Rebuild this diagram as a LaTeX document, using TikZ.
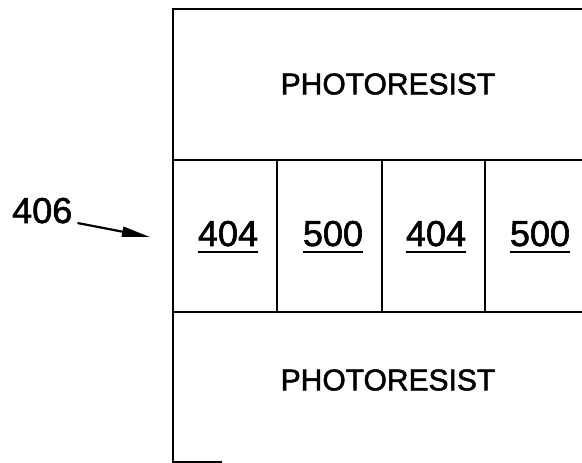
\documentclass[tikz,border=0pt]{standalone}
\usepackage{fontspec}
\setmainfont{Liberation Sans}
\newfontfamily\patentfont[FakeBold=1.6]{Liberation Sans}
\usetikzlibrary{arrows.meta}
\newcommand{\refnum}[1]{\sbox0{#1}\usebox0\llap{\rule[-7pt]{\wd0}{2.4pt}}}
\begin{document}
\begin{tikzpicture}[x=1pt,y=-1pt,
  layer/.style={line width=2.6pt},
  resist/.style={font=\patentfont\fontsize{30}{34}\selectfont},
  cellnum/.style={font=\patentfont\fontsize{36}{40}\selectfont, anchor=base, inner sep=0pt},
  pointer/.style={line width=2.2pt, -{Triangle[length=28pt,width=10pt]}}]
  \useasboundingbox (0,0) rectangle (582,463);

  % layer outlines
  \draw[layer] (582,9) -- (173,9) -- (173,462) -- (222,462);
  \draw[layer] (173,160) -- (582,160);
  \draw[layer] (173,312) -- (582,312);
  \foreach \x in {277,382,485}
    \draw[layer] (\x,160) -- (\x,312);

  \node[resist] (topresist) at (388,84) {PHOTORESIST};
  \node[resist] (botresist) at (388,380) {PHOTORESIST};

  \node[cellnum] (c1) at (228,246) {\refnum{404}};
  \node[cellnum] (c2) at (333,246) {\refnum{500}};
  \node[cellnum] (c3) at (436,246) {\refnum{404}};
  \node[cellnum] (c4) at (540,246) {\refnum{500}};

  \node[cellnum, anchor=base west] (lbl) at (12,223) {406};
  \coordinate (tip) at (150,237);
  \draw[pointer] ([xshift=5pt]lbl.base east) -- (tip);
\end{tikzpicture}
\end{document}
